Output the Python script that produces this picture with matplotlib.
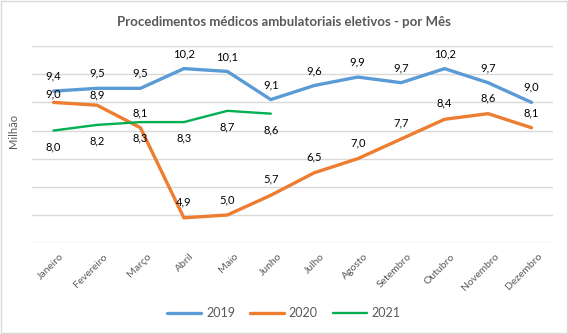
import matplotlib
matplotlib.use("Agg")
import matplotlib.pyplot as plt
from matplotlib.patches import Rectangle

months = ["Janeiro", "Fevereiro", "Março", "Abril", "Maio", "Junho", "Julho",
          "Agosto", "Setembro", "Outubro", "Novembro", "Dezembro"]
v2019 = [9.4, 9.5, 9.5, 10.2, 10.1, 9.1, 9.6, 9.9, 9.7, 10.2, 9.7, 9.0]
v2020 = [9.0, 8.9, 8.1, 4.9, 5.0, 5.7, 6.5, 7.0, 7.7, 8.4, 8.6, 8.1]
v2021 = [8.0, 8.2, 8.3, 8.3, 8.7, 8.6]

plt.rcParams['font.family'] = ['Lato', 'DejaVu Sans']

fig = plt.figure(figsize=(5.68, 3.34), dpi=100)
ax = fig.add_axes([0.056, 0.272, 0.918, 0.590])

x = list(range(len(months)))
c19, c20, c21 = "#5B9BD5", "#ED7D31", "#00B050"
ax.plot(x, v2019, color=c19, lw=2.4, label="2019", solid_capstyle='round', zorder=3)
ax.plot(x, v2020, color=c20, lw=2.4, label="2020", solid_capstyle='round', zorder=3)
ax.plot(x[:len(v2021)], v2021, color=c21, lw=1.7, label="2021", solid_capstyle='round', zorder=3)

ax.set_xlim(-0.5, len(months) - 0.5)
ax.set_ylim(4, 11)
ax.set_yticks(range(4, 12))
ax.set_yticklabels([])
ax.tick_params(axis='y', length=0)
ax.tick_params(axis='x', length=0)
ax.grid(axis='y', color="#D9D9D9", lw=1)
ax.set_axisbelow(True)
for s in ax.spines.values():
    s.set_visible(False)

ax.set_xticks(x)
ax.set_xticklabels(months, rotation=45, ha='right', va='top', rotation_mode='anchor',
                   fontsize=7.5, color="#595959")
for lab in ax.get_xticklabels():
    lab.set_transform(lab.get_transform() + matplotlib.transforms.ScaledTranslation(6/100, -4/100, fig.dpi_scale_trans))

def fmt(v):
    return f"{v:.1f}".replace(".", ",")

off19 = [15] * 12
off20 = [8, 10, 15, 16, 15, 16, 16, 16, 16, 16, 16, 15]
for i, v in enumerate(v2019):
    ax.annotate(fmt(v), (i, v), xytext=(0, off19[i] * 0.72), textcoords='offset points',
                ha='center', va='center', fontsize=8, color='black')
for i, v in enumerate(v2020):
    ax.annotate(fmt(v), (i, v), xytext=(0, off20[i] * 0.72), textcoords='offset points',
                ha='center', va='center', fontsize=8, color='black')
for i, v in enumerate(v2021):
    ax.annotate(fmt(v), (i, v), xytext=(0, -16 * 0.72), textcoords='offset points',
                ha='center', va='center', fontsize=8, color='black')

ax.set_ylabel("Milhão", color="#595959", fontsize=8)
ax.yaxis.set_label_coords(-0.025, 0.57)

fig.text(0.5, 1 - 22 / 334, "Procedimentos médicos ambulatoriais eletivos - por Mês",
         ha='center', va='center', fontsize=9.5, fontweight='bold', color="#595959")

leg = fig.legend(loc='center', bbox_to_anchor=(0.5, 1 - 313 / 334), ncol=3, frameon=False,
                 fontsize=9, handlelength=2.7, columnspacing=1.2, handletextpad=0.4)
for t in leg.get_texts():
    t.set_color("#595959")

fig.patches.append(Rectangle((0.001, 0.002), 0.997, 0.995, transform=fig.transFigure,
                             fill=False, edgecolor="#D9D9D9", lw=1))

fig.savefig("out.png", dpi=100, facecolor="white")
